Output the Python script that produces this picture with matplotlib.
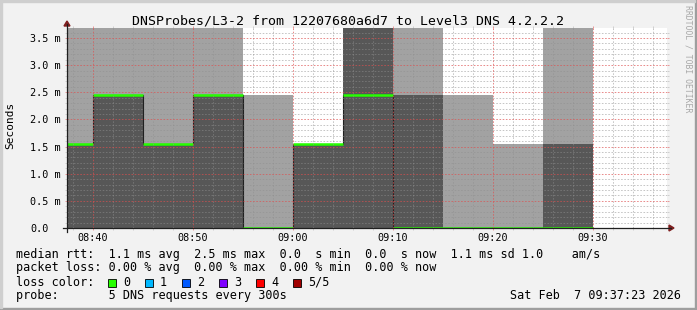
import matplotlib
matplotlib.use("Agg")
import matplotlib.pyplot as plt
from matplotlib import transforms
from matplotlib.lines import Line2D
from matplotlib.patches import Polygon, Rectangle
import numpy as np

# ---------------- data ----------------
title = "DNSProbes/L3-2 from 12207680a6d7 to Level3 DNS 4.2.2.2"
unit_label = "Seconds"
view_start = "08:37:23"
view_end = "09:37:23"
seg_edges = ["08:35", "08:40", "08:45", "08:50", "08:55", "09:00",
             "09:05", "09:10", "09:15", "09:20", "09:25", "09:30"]
median_ms = [1.54, 2.45, 1.54, 2.45, 0.0, 1.54, 2.45, 0.0, 0.0, 0.0, 0.0]
inner_smoke_ms = [1.54, 2.45, 1.54, 2.45, 0.0, 1.54, 3.9, 2.45, 0.0, 0.0, 1.54]
outer_smoke_ms = [3.9, 3.9, 3.9, 3.9, 2.45, 1.54, 3.9, 3.9, 2.45, 1.54, 3.9]
x_tick_labels = ["08:40", "08:50", "09:00", "09:10", "09:20", "09:30"]
y_ticks = [0.0, 0.5, 1.0, 1.5, 2.0, 2.5, 3.0, 3.5]
y_tick_labels = ["0.0", "0.5 m", "1.0 m", "1.5 m", "2.0 m", "2.5 m", "3.0 m", "3.5 m"]
y_max = 3.684
legend_rows = [
    "median rtt:  1.1 ms avg  2.5 ms max  0.0  s min  0.0  s now  1.1 ms sd 1.0    am/s",
    "packet loss: 0.00 % avg  0.00 % max  0.00 % min  0.00 % now",
    "loss color:",
    "probe:       5 DNS requests every 300s",
]
loss_colors = ["#26ff00", "#00b8ff", "#0059ff", "#7e00ff", "#ff0000", "#a00000"]
loss_labels = ["0", "1", "2", "3", "4", "5/5"]
timestamp = "Sat Feb  7 09:37:23 2026"
watermark = "RRDTOOL / TOBI OETIKER"

# ---------------- helpers ----------------
W, H = 697, 310
def fx(px):
    return px / W
def fy(py):
    return 1 - py / H
def tmin(s):
    p = [int(v) for v in s.split(":")]
    while len(p) < 3:
        p.append(0)
    return p[0] * 60 + p[1] + p[2] / 60.0

MONO = "DejaVu Sans Mono"
BACK = "#f2f2f2"
SHADEA = "#cfcfcf"
SHADEB = "#9e9e9e"
GRID = (0.56, 0.56, 0.56, 0.5)
MGRID = (0.87, 0.31, 0.31, 0.65)
ARROW = "#801f1f"
AXIS = "#1f1f1f"
LIGHT = "#a2a2a2"
DARK = "#575757"

fig = plt.figure(figsize=(W / 100, H / 100), dpi=100, facecolor=BACK)

# border shading
fig.patches.append(Rectangle((0, 0), 1, fy(H - 2) - 0, transform=fig.transFigure,
                             color=SHADEB, zorder=-5))
fig.patches.append(Rectangle((fx(W - 2), 0), fx(2), 1, transform=fig.transFigure,
                             color=SHADEB, zorder=-5))
fig.patches.append(Rectangle((0, fy(2)), fx(W - 2), fy(0) - fy(2), transform=fig.transFigure,
                             color=SHADEA, zorder=-4))
fig.patches.append(Rectangle((0, fy(H - 2)), fx(2), fy(0) - fy(H - 2), transform=fig.transFigure,
                             color=SHADEA, zorder=-4))

X0, X1, Y0, Y1 = 67, 667, 228, 28
ax = fig.add_axes([fx(X0), fy(Y0), fx(X1) - fx(X0), fy(Y1) - fy(Y0)])
ax.set_facecolor("white")
for s in ax.spines.values():
    s.set_visible(False)

t0, t1 = tmin(view_start), tmin(view_end)
ax.set_xlim(t0, t1)
ax.set_ylim(0, y_max)

edges = np.array([tmin(s) for s in seg_edges])
ax.stairs(outer_smoke_ms, edges, baseline=0, fill=True, color=LIGHT, zorder=1)
ax.stairs(inner_smoke_ms, edges, baseline=0, fill=True, color=DARK, zorder=2)
ax.stairs(median_ms, edges, baseline=None, color="#202020", lw=0.8, zorder=3)
ax.hlines(median_ms, edges[:-1], edges[1:], colors=loss_colors[0], lw=1.8, zorder=4)

# grid (drawn on top like rrdtool)
minor_x = np.arange(np.ceil(t0 / 2) * 2, t1, 2)
major_x = np.array([tmin(s) for s in x_tick_labels])
minor_x = [v for v in minor_x if abs(v % 10) > 1e-6]
minor_y = [v for v in np.arange(0.1, y_max, 0.1) if abs(round(v * 10) % 5) != 0]
dash = (0, (1.6, 1.6))
ax.vlines(minor_x, 0, y_max, colors=[GRID], lw=0.72, linestyles=[dash], zorder=6)
ax.hlines(minor_y, t0, t1, colors=[GRID], lw=0.72, linestyles=[dash], zorder=6)
ax.vlines(major_x, 0, y_max, colors=[MGRID], lw=0.72, linestyles=[dash], zorder=7)
ax.hlines(y_ticks[1:], t0, t1, colors=[MGRID], lw=0.72, linestyles=[dash], zorder=7)

# ticks
ax.set_xticks(major_x)
ax.set_xticks(minor_x, minor=True)
ax.set_yticks(y_ticks)
ax.set_yticks(minor_y, minor=True)
ax.tick_params(which="minor", length=1.5, width=0.5, color=GRID, direction="out",
               top=True, right=True, bottom=True, left=True)
ax.tick_params(which="major", length=1.5, width=0.6, color=MGRID, direction="out",
               top=True, right=True, bottom=True, left=True)
ax.set_xticklabels(x_tick_labels, fontfamily=MONO, fontsize=7.3)
ax.tick_params(axis="x", which="major", pad=2.2)
ax.set_yticklabels([])

ytr = transforms.blended_transform_factory(fig.transFigure, ax.transData)
for v, lab in zip(y_ticks, y_tick_labels):
    fig.text(fx(30), v, lab, transform=ytr, fontfamily=MONO, fontsize=7.3,
             ha="left", va="center_baseline")

# axis lines and arrows
fig.add_artist(Line2D([fx(X0 - 4), fx(X1 + 4)], [fy(Y0), fy(Y0)], color=AXIS, lw=0.9))
fig.add_artist(Line2D([fx(X0), fx(X0)], [fy(Y0 + 4), fy(Y1 - 4)], color=AXIS, lw=0.9))
fig.add_artist(Polygon([[fx(X1 + 2), fy(Y0 - 3)], [fx(X1 + 2), fy(Y0 + 3)], [fx(X1 + 7), fy(Y0)]],
                       closed=True, color=ARROW, transform=fig.transFigure))
fig.add_artist(Polygon([[fx(X0 - 3), fy(Y1 - 2)], [fx(X0 + 3), fy(Y1 - 2)], [fx(X0), fy(Y1 - 7)]],
                       closed=True, color=ARROW, transform=fig.transFigure))

# title, unit, watermark
fig.text(fx(348), fy(24), title, fontfamily=MONO, fontsize=9.5, ha="center", va="baseline")
fig.text(fx(10), fy(125), unit_label, fontfamily=MONO, fontsize=8, rotation=90,
         ha="center", va="center")
fig.text(fx(688), fy(5), watermark, fontfamily=MONO, fontsize=5.9, rotation=270,
         ha="center", va="top", color="#a8a8a8")

# legend rows
baselines = [258, 271.5, 285.5, 299]
for row, b in zip(legend_rows, baselines):
    fig.text(fx(16), fy(b), row, fontfamily=MONO, fontsize=8.5, ha="left", va="baseline")
for i, (c, lab) in enumerate(zip(loss_colors, loss_labels)):
    bx = 108 + 37 * i
    fig.patches.append(Rectangle((fx(bx), fy(287)), fx(8), fy(279) - fy(287),
                                 transform=fig.transFigure, facecolor=c,
                                 edgecolor="black", lw=0.6))
    fig.text(fx(bx + 15), fy(baselines[2]), lab, fontfamily=MONO, fontsize=8.5,
             ha="left", va="baseline")
fig.text(fx(681), fy(baselines[3]), timestamp, fontfamily=MONO, fontsize=8.5,
         ha="right", va="baseline")

fig.savefig("out.png", dpi=100, facecolor=BACK)
